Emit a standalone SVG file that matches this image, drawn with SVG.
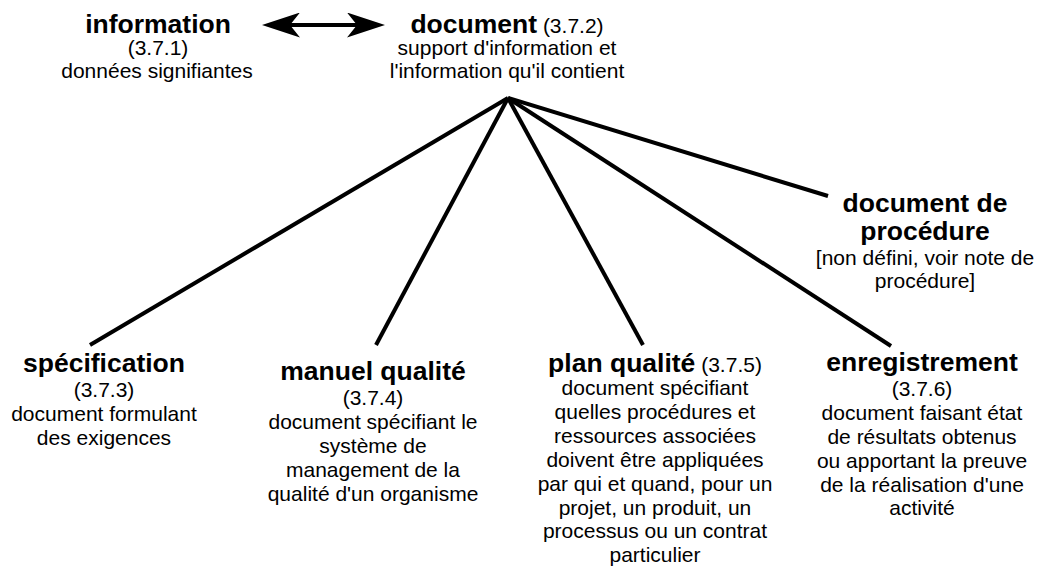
<svg xmlns="http://www.w3.org/2000/svg" width="1042" height="585" viewBox="0 0 1042 585">
<style>
text{font-family:"Liberation Sans",Arial,Helvetica,sans-serif;fill:#000;text-anchor:middle}
.t{font-size:26.5px;font-weight:bold}
.d{font-size:21px}
.c{stroke:#000;stroke-width:4;fill:none}
.a{stroke:#000;stroke-width:4;fill:none}
</style>
<defs>
<marker id="head" viewBox="0 0 38 25" refX="28" refY="12.5" markerWidth="38" markerHeight="25" markerUnits="userSpaceOnUse" orient="auto-start-reverse">
<path d="M0,0 L38,12.5 L0,25 L10,12.5 Z" fill="#000"/>
</marker>
</defs>
<rect width="1042" height="585" fill="#fff"/>
<g id="connectors">
<line class="a" x1="272" y1="25" x2="375" y2="25" marker-start="url(#head)" marker-end="url(#head)"/>
<line class="c" x1="508" y1="98" x2="90" y2="345"/>
<line class="c" x1="508" y1="98" x2="376" y2="345"/>
<line class="c" x1="508" y1="98" x2="643" y2="345"/>
<line class="c" x1="508" y1="98" x2="891" y2="346"/>
<line class="c" x1="508" y1="98" x2="828" y2="196"/>
</g>
<g id="n-information">
<text class="t" x="158" y="33">information</text>
<text class="d" x="158" y="55">(3.7.1)</text>
<text class="d" x="157" y="78">données signifiantes</text>
</g>
<g id="n-document">
<text x="507" y="33"><tspan class="t">document</tspan><tspan class="d"> (3.7.2)</tspan></text>
<text class="d" x="507" y="55">support d'information et</text>
<text class="d" x="507" y="78">l'information qu'il contient</text>
</g>
<g id="n-procedure">
<text class="t" x="925" y="212">document de</text>
<text class="t" x="925" y="240">procédure</text>
<text class="d" x="925" y="265">[non défini, voir note de</text>
<text class="d" x="925" y="288">procédure]</text>
</g>
<g id="n-specification">
<text class="t" x="104" y="372">spécification</text>
<text class="d" x="104" y="397">(3.7.3)</text>
<text class="d" x="104" y="421">document formulant</text>
<text class="d" x="104" y="445">des exigences</text>
</g>
<g id="n-manuel">
<text class="t" x="373" y="380">manuel qualité</text>
<text class="d" x="373" y="405">(3.7.4)</text>
<text class="d" x="373" y="429">document spécifiant le</text>
<text class="d" x="373" y="453">système de</text>
<text class="d" x="373" y="477">management de la</text>
<text class="d" x="373" y="501">qualité d'un organisme</text>
</g>
<g id="n-plan">
<text x="655" y="372"><tspan class="t">plan qualité</tspan><tspan class="d"> (3.7.5)</tspan></text>
<text class="d" x="655" y="395">document spécifiant</text>
<text class="d" x="655" y="419">quelles procédures et</text>
<text class="d" x="655" y="443">ressources associées</text>
<text class="d" x="655" y="467">doivent être appliquées</text>
<text class="d" x="655" y="491">par qui et quand, pour un</text>
<text class="d" x="655" y="515">projet, un produit, un</text>
<text class="d" x="655" y="538">processus ou un contrat</text>
<text class="d" x="655" y="562">particulier</text>
</g>
<g id="n-enregistrement">
<text class="t" x="922" y="371">enregistrement</text>
<text class="d" x="922" y="396">(3.7.6)</text>
<text class="d" x="922" y="420">document faisant état</text>
<text class="d" x="922" y="444">de résultats obtenus</text>
<text class="d" x="922" y="468">ou apportant la preuve</text>
<text class="d" x="922" y="492">de la réalisation d'une</text>
<text class="d" x="922" y="515">activité</text>
</g>
</svg>
